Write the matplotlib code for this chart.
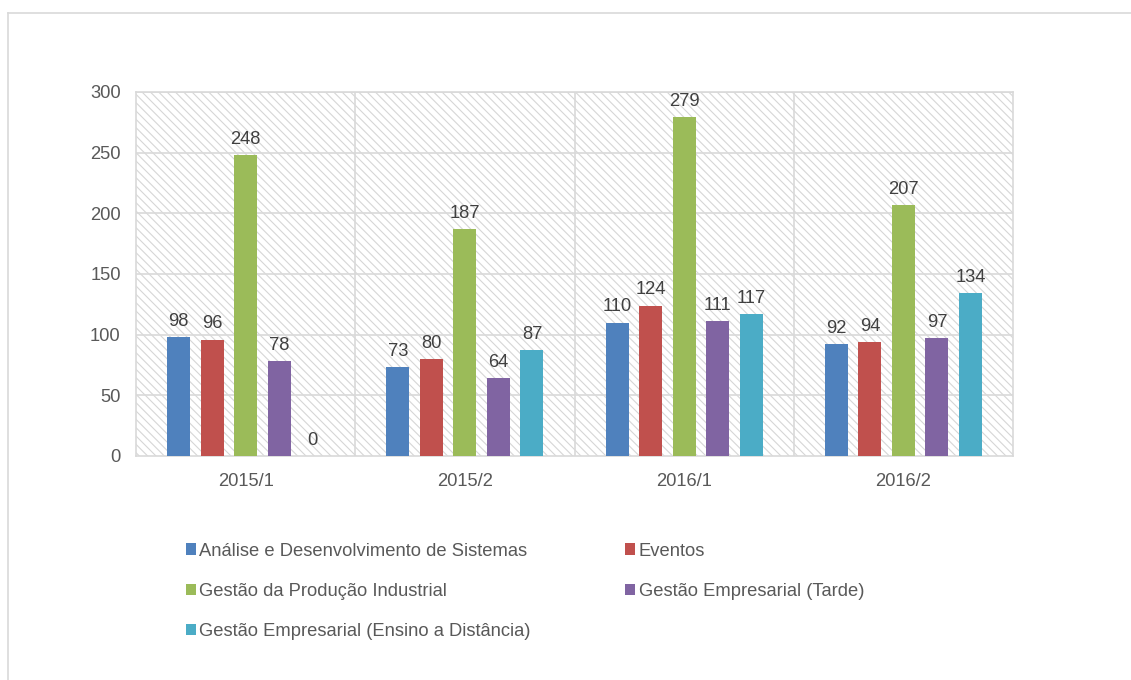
import matplotlib.pyplot as plt
from matplotlib.patches import Rectangle
from matplotlib.lines import Line2D
import numpy as np

plt.rcParams['font.family'] = ['Liberation Sans', 'DejaVu Sans']
plt.rcParams['hatch.linewidth'] = 0.8

# Data
semesters = ['2015/1', '2015/2', '2016/1', '2016/2']
courses = ['Análise e Desenvolvimento de Sistemas', 'Eventos',
           'Gestão da Produção Industrial', 'Gestão Empresarial (Tarde)',
           'Gestão Empresarial (Ensino a Distância)']
ads = [98, 73, 110, 92]
eventos = [96, 80, 124, 94]
gpi = [248, 187, 279, 207]
ge_tarde = [78, 64, 111, 97]
ge_ead = [0, 87, 117, 134]
series = [ads, eventos, gpi, ge_tarde, ge_ead]
colors = ['#4f81bd', '#c0504d', '#9bbb59', '#8064a2', '#4bacc6']

fs = 13.2

fig = plt.figure(figsize=(11.31, 6.8), dpi=100)
ax = fig.add_axes([136 / 1131, 1 - 456 / 680, 877 / 1131, 364 / 680])

# Hatched plot background
ax.set_facecolor('white')
bg = Rectangle((0, 0), 1, 1, transform=ax.transAxes, facecolor='white',
               edgecolor='#d6d6d6', hatch='\\\\\\\\', linewidth=0, zorder=0)
ax.add_patch(bg)

x = np.arange(len(semesters))
step = 0.153
width = 0.105
handles = []
for i, (vals, c, name) in enumerate(zip(series, colors, courses)):
    pos = x + (i - 2) * step
    h = ax.bar(pos, vals, width=width, color=c, label=name, zorder=3)
    handles.append(h)
    for px, v in zip(pos, vals):
        ax.text(px, v + 6, str(v), ha='center', va='bottom',
                fontsize=fs, color='#404040', zorder=4)

ax.set_xlim(-0.5, 3.5)
ax.set_ylim(0, 300)
ax.set_yticks(range(0, 301, 50))
ax.set_xticks(x)
ax.set_xticklabels(semesters)

# Gridlines
for y in range(50, 301, 50):
    ax.axhline(y, color='#d9d9d9', linewidth=1.2, zorder=1)
for b in [0.5, 1.5, 2.5]:
    ax.axvline(b, color='#d9d9d9', linewidth=1.2, zorder=1)

for s in ax.spines.values():
    s.set_color('#d9d9d9')
    s.set_linewidth(1.2)
ax.tick_params(length=0, labelsize=fs, colors='#595959')
ax.tick_params(axis='x', pad=12)
ax.tick_params(axis='y', pad=11)

# Legend filled row by row
order = [0, 2, 4, 1, 3]
ax.legend([handles[k] for k in order], [courses[k] for k in order],
          loc='upper left', bbox_to_anchor=(169 / 1131, 1 - 526 / 680),
          bbox_transform=fig.transFigure, ncol=2, frameon=False,
          fontsize=fs, labelcolor='#595959', handlelength=0.55,
          handleheight=0.55, handletextpad=0.2, columnspacing=5.15,
          labelspacing=1.28)

# Outer chart border (top and left edge visible)
fig.add_artist(Line2D([7.5 / 1131, 1], [1 - 12.5 / 680, 1 - 12.5 / 680],
                      transform=fig.transFigure, color='#d9d9d9', linewidth=1.2))
fig.add_artist(Line2D([7.5 / 1131, 7.5 / 1131], [0, 1 - 12.5 / 680],
                      transform=fig.transFigure, color='#d9d9d9', linewidth=1.2))

fig.savefig('out.png', dpi=100)
